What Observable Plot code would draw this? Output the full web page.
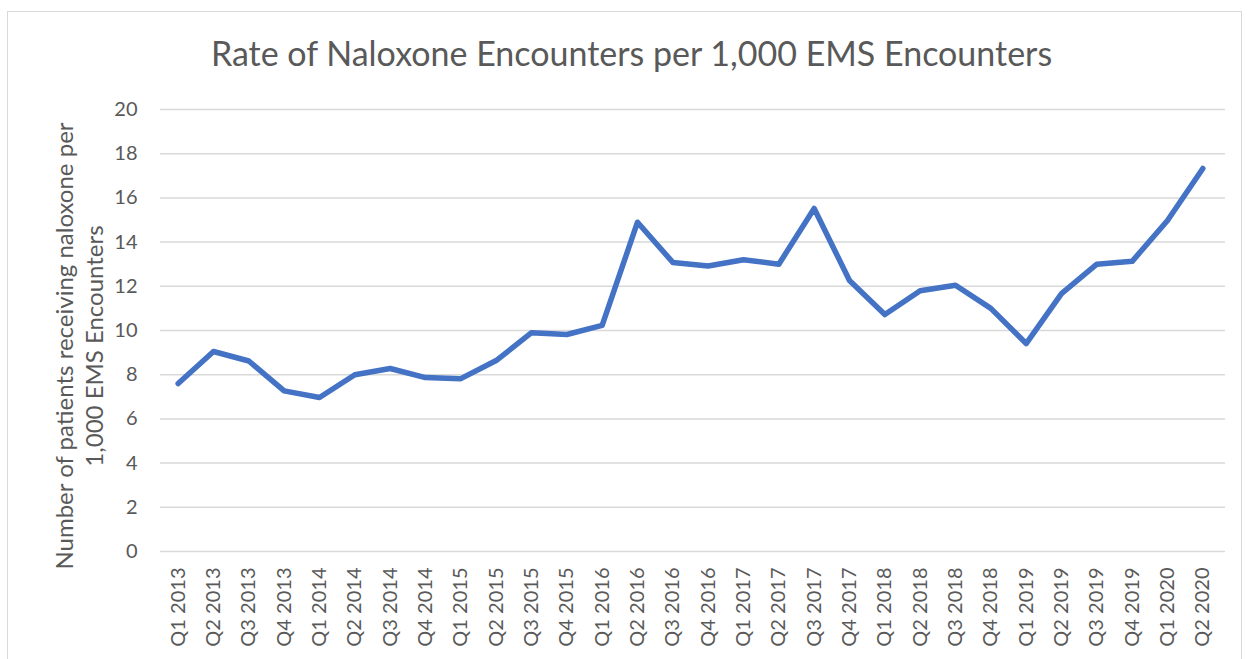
<!DOCTYPE html>
<html><head><meta charset="utf-8">
<script src="https://cdn.jsdelivr.net/npm/d3@7"></script>
<script src="https://cdn.jsdelivr.net/npm/@observablehq/plot@0.6"></script>
<style>
body{margin:0;background:#fff;font-family:Lato,"Open Sans",sans-serif;}
#wrap{position:relative;width:1250px;height:659px;overflow:hidden;}
#frame{position:absolute;left:7px;top:11px;width:1235px;height:660px;border:1.5px solid #d9d9d9;box-sizing:border-box;}
#title{position:absolute;left:0;top:36px;width:1263px;text-align:center;font-size:34px;line-height:34px;color:#595959;}
#chart{position:absolute;left:0;top:80px;}
#ytitle{position:absolute;left:79px;top:346px;transform:translate(-50%,-50%) rotate(-90deg);white-space:nowrap;text-align:center;font-size:24px;line-height:30px;color:#595959;}
</style></head>
<body><div id="wrap"><div id="frame"></div><div id="title">Rate of Naloxone Encounters per 1,000 EMS Encounters</div><div id="chart"></div><div id="ytitle"></div></div>
<script>
const quarters = ["Q1 2013","Q2 2013","Q3 2013","Q4 2013","Q1 2014","Q2 2014","Q3 2014","Q4 2014","Q1 2015","Q2 2015","Q3 2015","Q4 2015","Q1 2016","Q2 2016","Q3 2016","Q4 2016","Q1 2017","Q2 2017","Q3 2017","Q4 2017","Q1 2018","Q2 2018","Q3 2018","Q4 2018","Q1 2019","Q2 2019","Q3 2019","Q4 2019","Q1 2020","Q2 2020"];
const rates = [7.6,9.05,8.62,7.27,6.97,8.0,8.28,7.87,7.82,8.64,9.9,9.82,10.23,14.9,13.08,12.92,13.2,13.0,15.52,12.26,10.72,11.8,12.05,11.0,9.41,11.67,13.0,13.13,14.98,17.33];
const yTicks = [0,2,4,6,8,10,12,14,16,18,20];
const yTitleLines = ["Number of patients receiving naloxone per", "1,000 EMS Encounters"];
const data = quarters.map((q,i)=>({q, v: rates[i]}));
const yt = document.getElementById("ytitle");
yTitleLines.forEach((t,i)=>{ if(i) yt.appendChild(document.createElement("br")); yt.appendChild(document.createTextNode(t)); });
const chart = Plot.plot({
  width: 1250, height: 579,
  marginLeft: 160, marginRight: 30, marginTop: 29, marginBottom: 108,
  style: {fontFamily: "Lato, 'Open Sans', sans-serif", color: "#595959", background: "transparent", overflow: "visible"},
  x: {type: "point", domain: quarters, padding: 0.5, round: false, label: null},
  y: {domain: [0,20], label: null},
  marks: [
    Plot.ruleY(yTicks, {stroke: "#d9d9d9", strokeWidth: 1.5, insetRight: -5}),
    Plot.axisY({ticks: yTicks, tickSize: 0, tickPadding: 23, fontSize: 20, label: null}),
    Plot.axisX({tickSize: 0, tickRotate: -90, tickPadding: 16, fontSize: 20, label: null}),
    Plot.line(data, {x: "q", y: "v", stroke: "#4472C4", strokeWidth: 5.5, strokeLinejoin: "round", strokeLinecap: "round"})
  ]
});
document.getElementById("chart").appendChild(chart);
</script></body></html>
